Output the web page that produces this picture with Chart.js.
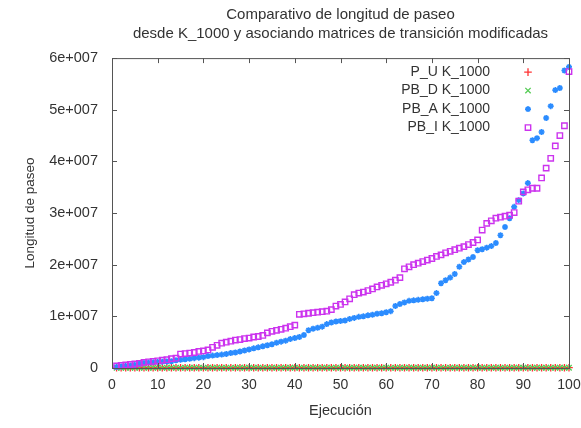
<!DOCTYPE html>
<html><head><meta charset="utf-8">
<script src="https://cdn.jsdelivr.net/npm/chart.js@4"></script>
<style>html,body{margin:0;padding:0;background:#fff}#wrap{width:581px;height:428px}</style>
</head><body><div id="wrap"><canvas id="c" width="581" height="428"></canvas></div>
<script>
const titleLines = ["Comparativo de longitud de paseo", "desde K_1000 y asociando matrices de transición modificadas"];
const xTitle = "Ejecución";
const yTitle = "Longitud de paseo";
const seriesNames = ["P_U K_1000", "PB_D K_1000", "PB_A K_1000", "PB_I K_1000"];
const execs = [1,2,3,4,5,6,7,8,9,10,11,12,13,14,15,16,17,18,19,20,21,22,23,24,25,26,27,28,29,30,31,32,33,34,35,36,37,38,39,40,41,42,43,44,45,46,47,48,49,50,51,52,53,54,55,56,57,58,59,60,61,62,63,64,65,66,67,68,69,70,71,72,73,74,75,76,77,78,79,80,81,82,83,84,85,86,87,88,89,90,91,92,93,94,95,96,97,98,99,100];
const yTickValues = [0, 1e7, 2e7, 3e7, 4e7, 5e7, 6e7];
const xTickValues = [0,10,20,30,40,50,60,70,80,90,100];
// values in millions
const pU = [0.05,0.05,0.05,0.06,0.05,0.06,0.05,0.06,0.06,0.05,0.06,0.06,0.05,0.06,0.06,0.05,0.06,0.06,0.06,0.05,0.06,0.06,0.05,0.06,0.06,0.06,0.05,0.06,0.06,0.06,0.05,0.06,0.06,0.06,0.06,0.05,0.06,0.06,0.06,0.06,0.05,0.06,0.06,0.06,0.06,0.06,0.05,0.06,0.06,0.06,0.06,0.06,0.05,0.06,0.06,0.06,0.06,0.06,0.06,0.05,0.06,0.06,0.06,0.06,0.06,0.06,0.05,0.06,0.06,0.06,0.06,0.06,0.06,0.06,0.05,0.06,0.06,0.06,0.06,0.06,0.06,0.06,0.06,0.05,0.06,0.06,0.06,0.06,0.06,0.06,0.06,0.06,0.06,0.06,0.05,0.06,0.06,0.06,0.06,0.06];
const pbD = [0.04,0.04,0.04,0.04,0.05,0.04,0.05,0.04,0.05,0.05,0.04,0.05,0.05,0.05,0.04,0.05,0.05,0.05,0.05,0.04,0.05,0.05,0.05,0.05,0.05,0.04,0.05,0.05,0.05,0.05,0.05,0.05,0.04,0.05,0.05,0.05,0.05,0.05,0.05,0.05,0.04,0.05,0.05,0.05,0.05,0.05,0.05,0.05,0.05,0.04,0.05,0.05,0.05,0.05,0.05,0.05,0.05,0.05,0.05,0.05,0.04,0.05,0.05,0.05,0.05,0.05,0.05,0.05,0.05,0.05,0.05,0.05,0.04,0.05,0.05,0.05,0.05,0.05,0.05,0.05,0.05,0.05,0.05,0.05,0.05,0.04,0.05,0.05,0.05,0.05,0.05,0.05,0.05,0.05,0.05,0.05,0.05,0.05,0.05,0.05];
const pbA = [0.2,0.3,0.4,0.5,0.6,0.9,1.0,1.05,1.1,1.15,1.2,1.25,1.3,1.5,1.6,1.7,1.8,1.9,2.0,2.1,2.3,2.4,2.5,2.6,2.7,2.9,3.0,3.2,3.4,3.6,3.8,4.0,4.2,4.4,4.6,4.9,5.1,5.3,5.6,5.8,6.0,6.4,7.3,7.6,7.8,8.0,8.5,8.8,9.0,9.1,9.2,9.5,9.7,9.9,10.0,10.2,10.3,10.5,10.6,10.8,11.0,12.0,12.4,12.7,13.0,13.1,13.2,13.3,13.4,13.5,14.5,16.4,17.0,17.5,18.2,19.6,20.5,21.0,21.5,22.8,23.0,23.3,23.6,24.2,25.7,27.3,29.0,31.2,32.5,33.8,35.8,44.1,44.5,45.7,48.4,50.7,53.8,54.2,57.6,58.3];
const pbI = [0.4,0.5,0.6,0.7,0.8,0.9,1.1,1.2,1.3,1.4,1.5,1.6,1.8,1.9,2.7,2.8,2.9,3.0,3.2,3.3,3.5,4.0,4.4,4.8,5.0,5.2,5.4,5.5,5.7,5.8,6.0,6.1,6.3,6.8,7.1,7.3,7.5,7.7,8.0,8.3,10.4,10.5,10.6,10.7,10.8,10.9,11.0,11.3,12.0,12.3,12.8,13.4,14.2,14.5,14.7,15.0,15.3,15.7,16.0,16.3,16.6,17.0,17.5,19.2,19.6,20.0,20.3,20.6,20.9,21.2,21.6,21.9,22.3,22.6,22.9,23.2,23.5,23.9,24.3,24.8,26.7,28.0,28.5,29.0,29.2,29.4,29.6,30.1,32.3,34.1,34.5,34.8,34.8,36.8,38.7,40.6,43.0,45.0,46.9,57.4];

const FONT = "'Liberation Sans', Arial, sans-serif";
const TXT = '#333';
const toPts = arr => execs.map((x, i) => ({x: x, y: arr[i] * 1e6}));
const styles = [
  {color: '#ff3333', style: 'cross', r: 3.8, w: 1.3},
  {color: '#55cc55', style: 'crossRot', r: 3.8, w: 1.3},
  {color: '#2b8cff', style: 'star', r: 3.0, w: 1.6},
  {color: '#cc33ee', style: 'rect', r: 3.8, w: 1.4}
];
const allSeries = [pU, pbD, pbA, pbI];
const datasets = allSeries.map((arr, k) => ({
  label: seriesNames[k],
  data: toPts(arr),
  showLine: false,
  pointStyle: styles[k].style,
  pointRadius: styles[k].r,
  pointBorderColor: styles[k].color,
  pointBackgroundColor: 'rgba(0,0,0,0)',
  pointBorderWidth: styles[k].w,
  order: 3 - k,
  clip: false
}));

const framePlugin = {
  id: 'frame',
  afterDatasetsDraw(chart) {
    const {ctx, chartArea: a, scales} = chart;
    ctx.save();
    ctx.strokeStyle = '#555';
    ctx.lineWidth = 1;
    ctx.strokeRect(a.left + 0.5, a.top + 0.5, a.right - a.left, a.bottom - a.top);
    ctx.beginPath();
    const tl = 5;
    xTickValues.forEach(v => {
      const px = Math.round(scales.x.getPixelForValue(v)) + 0.5;
      ctx.moveTo(px, a.bottom); ctx.lineTo(px, a.bottom - tl);
      ctx.moveTo(px, a.top); ctx.lineTo(px, a.top + tl);
    });
    yTickValues.forEach(v => {
      const py = Math.round(scales.y.getPixelForValue(v)) + 0.5;
      ctx.moveTo(a.left, py); ctx.lineTo(a.left + tl, py);
      ctx.moveTo(a.right, py); ctx.lineTo(a.right - tl, py);
    });
    ctx.stroke();
    // legend (gnuplot style: text right aligned, marker to the right)
    ctx.font = '14px ' + FONT;
    ctx.textAlign = 'right';
    ctx.textBaseline = 'middle';
    const textRight = a.right - 79;
    const markX = a.right - 41;
    chart.data.datasets.forEach((ds, k) => {
      const y = a.top + 14 + k * 18.5;
      ctx.fillStyle = TXT;
      ctx.fillText(ds.label, textRight, y);
      const st = styles[k];
      ctx.strokeStyle = st.color;
      ctx.fillStyle = 'rgba(0,0,0,0)';
      ctx.lineWidth = st.w;
      Chart.helpers.drawPoint(ctx, {pointStyle: st.style, radius: st.r, borderWidth: st.w}, markX, y);
    });
    ctx.restore();
  }
};

new Chart(document.getElementById('c'), {
  type: 'scatter',
  data: {datasets: datasets},
  options: {
    responsive: false,
    animation: false,
    layout: {padding: {left: 0, right: 12, top: 0, bottom: 0}},
    plugins: {
      legend: {display: false},
      tooltip: {enabled: false},
      title: {
        display: true,
        text: titleLines,
        fullSize: false,
        color: TXT,
        font: {family: FONT, size: 15, weight: 'normal', lineHeight: 1.27},
        padding: {top: 5, bottom: 15}
      }
    },
    scales: {
      x: {
        type: 'linear', min: 0, max: 100,
        afterBuildTicks: s => { s.ticks = xTickValues.map(v => ({value: v})); },
        grid: {display: false, drawTicks: false},
        border: {display: false},
        ticks: {color: TXT, font: {family: FONT, size: 14}, padding: 9, maxRotation: 0, callback: v => String(v)},
        title: {display: true, text: xTitle, color: TXT, font: {family: FONT, size: 14.5}, padding: {top: 0, bottom: 8}},
        afterFit: s => { s.height = 60; s.paddingLeft = 0; s.paddingRight = 0; }
      },
      y: {
        type: 'linear', min: 0, max: 6e7,
        afterBuildTicks: s => { s.ticks = yTickValues.map(v => ({value: v})); },
        grid: {display: false, drawTicks: false},
        border: {display: false},
        ticks: {color: TXT, font: {family: FONT, size: 14.5}, padding: 14,
          callback: v => v === 0 ? '0' : (v / 1e7) + 'e+007'},
        title: {display: true, text: yTitle, color: TXT, font: {family: FONT, size: 13.5}, padding: {top: 22, bottom: 0}},
        afterFit: s => { s.width = 112; s.paddingTop = 0; s.paddingBottom = 0; }
      }
    }
  },
  plugins: [framePlugin]
});
</script></body></html>
